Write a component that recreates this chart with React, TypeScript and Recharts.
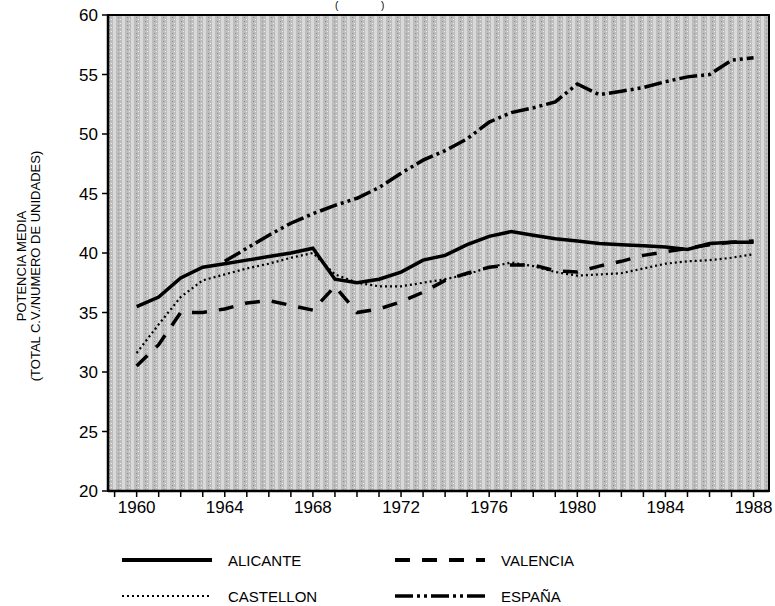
import { LineChart, Line, XAxis, YAxis, CartesianGrid, ReferenceArea } from "recharts";

const YEARS = [
  1960, 1961, 1962, 1963, 1964, 1965, 1966, 1967, 1968, 1969, 1970, 1971, 1972, 1973, 1974,
  1975, 1976, 1977, 1978, 1979, 1980, 1981, 1982, 1983, 1984, 1985, 1986, 1987, 1988,
];
const ALICANTE = [
  35.5, 36.3, 37.9, 38.8, 39.1, 39.4, 39.7, 40.0, 40.4, 37.8, 37.5, 37.8, 38.4, 39.4, 39.8,
  40.7, 41.4, 41.8, 41.5, 41.2, 41.0, 40.8, 40.7, 40.6, 40.5, 40.3, 40.8, 40.9, 40.9,
];
const CASTELLON = [
  31.6, 34.0, 36.3, 37.7, 38.2, 38.7, 39.1, 39.6, 40.0, 38.2, 37.5, 37.2, 37.2, 37.5, 37.8,
  38.2, 38.8, 39.2, 38.9, 38.4, 38.1, 38.2, 38.3, 38.7, 39.1, 39.3, 39.4, 39.6, 39.9,
];
const VALENCIA = [
  30.5, 32.3, 35.0, 35.0, 35.3, 35.8, 36.0, 35.6, 35.2, 37.2, 35.0, 35.3, 35.9, 36.7, 37.7,
  38.3, 38.8, 39.0, 39.0, 38.5, 38.4, 38.9, 39.3, 39.8, 40.1, 40.4, 40.7, 40.9, 41.0,
];
const ESPANA = [
  null, null, null, null, 39.3, 40.4, 41.5, 42.5, 43.3, 44.0, 44.6, 45.5, 46.7, 47.8, 48.6,
  49.6, 51.0, 51.8, 52.2, 52.7, 54.2, 53.3, 53.6, 53.9, 54.4, 54.8, 55.0, 56.2, 56.4,
];

const X_TICKS = [
  1959, 1960, 1961, 1962, 1963, 1964, 1965, 1966, 1967, 1968, 1969, 1970, 1971, 1972, 1973,
  1974, 1975, 1976, 1977, 1978, 1979, 1980, 1981, 1982, 1983, 1984, 1985, 1986, 1987, 1988,
];
const X_LABELS = [1960, 1964, 1968, 1972, 1976, 1980, 1984, 1988];
const Y_TICKS = [20, 25, 30, 35, 40, 45, 50, 55, 60];

const data = YEARS.map((year, i) => ({
  year,
  alicante: ALICANTE[i],
  castellon: CASTELLON[i],
  valencia: VALENCIA[i],
  espana: ESPANA[i],
}));

const FONT = "'Liberation Sans', Arial, sans-serif";
const DASH_VALENCIA = "15 12";
const DASH_CASTELLON = "2 3";
const DASH_ESPANA = "18 4 3 4 3 4";

function Sample({ dash, width }: { dash?: string; width: number }) {
  return (
    <svg width={90} height={8} style={{ display: "block" }}>
      <line x1={0} y1={4} x2={90} y2={4} stroke="#000" strokeWidth={width} strokeDasharray={dash} />
    </svg>
  );
}

const legendItems = [
  { name: "ALICANTE", left: 122, top: 560, width: 4, dash: undefined },
  { name: "VALENCIA", left: 395, top: 560, width: 4, dash: DASH_VALENCIA },
  { name: "CASTELLON", left: 122, top: 596, width: 2, dash: DASH_CASTELLON },
  { name: "ESPAÑA", left: 395, top: 596, width: 3.5, dash: DASH_ESPANA },
];

export default function App() {
  return (
    <div style={{ position: "fixed", left: 0, top: 0, width: 775, height: 606, background: "#fff", fontFamily: FONT }}>
      <LineChart width={775} height={606} data={data} margin={{ top: 15, right: 6, bottom: 85, left: 0 }}>
        <defs>
          <pattern id="ht" width="9" height="4" patternUnits="userSpaceOnUse">
            <rect width="9" height="4" fill="#bdbdbd" />
            <rect x="5" width="3" height="4" fill="#d9d9d9" />
            <rect x="1" y="1" width="1" height="1" fill="#8a8a8a" />
            <rect x="3" y="3" width="1" height="1" fill="#eeeeee" />
          </pattern>
        </defs>
        <CartesianGrid fill="url(#ht)" stroke="none" horizontal={false} vertical={false} />
        <XAxis
          type="number"
          dataKey="year"
          domain={[1958.7, 1988.7]}
          allowDataOverflow
          ticks={X_TICKS}
          interval={0}
          tickFormatter={(v: number) => (X_LABELS.includes(v) ? String(v) : "")}
          height={30}
          tickSize={6}
          tickMargin={4}
          axisLine={{ stroke: "#000", strokeWidth: 2.5 }}
          tickLine={{ stroke: "#000", strokeWidth: 1.5 }}
          tick={{ fontSize: 17, fill: "#000", fontFamily: FONT }}
        />
        <YAxis
          type="number"
          domain={[20, 60]}
          ticks={Y_TICKS}
          interval={0}
          width={108}
          tickSize={6}
          tickMargin={4}
          axisLine={{ stroke: "#000", strokeWidth: 2.5 }}
          tickLine={{ stroke: "#000", strokeWidth: 1.5 }}
          tick={{ fontSize: 17, fill: "#000", fontFamily: FONT }}
        />
        <ReferenceArea x1={1958.7} x2={1988.7} y1={20} y2={60} fill="none" stroke="#000" strokeWidth={2} ifOverflow="visible" />
        <Line type="linear" dataKey="castellon" stroke="#000" strokeWidth={2.2} strokeDasharray={DASH_CASTELLON} dot={false} isAnimationActive={false} />
        <Line type="linear" dataKey="valencia" stroke="#000" strokeWidth={3.5} strokeDasharray={DASH_VALENCIA} dot={false} isAnimationActive={false} />
        <Line type="linear" dataKey="espana" stroke="#000" strokeWidth={3.5} strokeDasharray={DASH_ESPANA} dot={false} connectNulls={false} isAnimationActive={false} />
        <Line type="linear" dataKey="alicante" stroke="#000" strokeWidth={3.5} dot={false} isAnimationActive={false} />
      </LineChart>

      <div style={{ position: "absolute", left: 335, top: 0, fontSize: 10, lineHeight: "12px" }}>(</div>
      <div style={{ position: "absolute", left: 381, top: 0, fontSize: 10, lineHeight: "12px" }}>)</div>

      <div
        style={{
          position: "absolute",
          left: 29,
          top: 266,
          transform: "translate(-50%, -50%) rotate(-90deg)",
          whiteSpace: "nowrap",
          textAlign: "center",
          fontSize: 13,
          lineHeight: "14px",
        }}
      >
        POTENCIA MEDIA
        <br />
        (TOTAL C.V./NUMERO DE UNIDADES)
      </div>

      {legendItems.map((it) => (
        <div key={it.name} style={{ position: "absolute", left: it.left, top: it.top - 9, display: "flex", alignItems: "center", height: 18 }}>
          <Sample dash={it.dash} width={it.width} />
          <span style={{ marginLeft: 16, fontSize: 15 }}>{it.name}</span>
        </div>
      ))}
    </div>
  );
}
